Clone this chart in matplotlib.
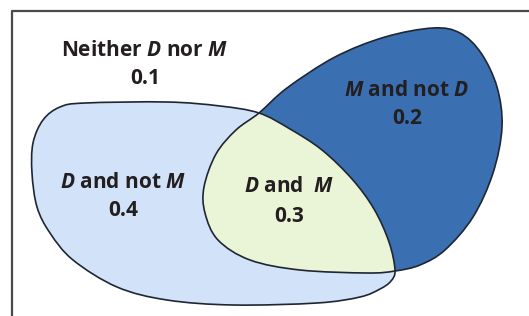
import numpy as np
import matplotlib
matplotlib.use("Agg")
import matplotlib.pyplot as plt
from matplotlib.path import Path
from matplotlib.patches import PathPatch

plt.rcParams['font.family'] = ['Open Sans', 'DejaVu Sans']
plt.rcParams['mathtext.fontset'] = 'custom'
plt.rcParams['mathtext.bfit'] = 'Open Sans:bold:italic'
plt.rcParams['mathtext.it'] = 'Open Sans:bold:italic'
plt.rcParams['mathtext.rm'] = 'Open Sans:bold'

# ---- data ----
region_labels = [r"Neither $\mathbfit{D}$ nor $\mathbfit{M}$",
                 r"$\mathbfit{M}$ and not $\mathbfit{D}$",
                 r"$\mathbfit{D}$ and not $\mathbfit{M}$",
                 r"$\mathbfit{D}$ and  $\mathbfit{M}$"]
region_probs = [0.1, 0.2, 0.4, 0.3]

# ---- geometry (pixel coordinates of the drawing) ----
label_pos = [(145, 50), (407, 90), (123, 182), (289, 187)]
D_pts = [(60, 107), (85, 103), (167, 102), (220, 106), (259, 113), (290, 129),
         (322, 150), (352, 179), (374, 209), (389, 242), (395, 270), (391, 281),
         (380, 289), (360, 297), (317, 303), (233, 305), (167, 300), (117, 287),
         (73, 260), (50, 233), (37, 207), (32, 173), (33, 143), (43, 120)]
M_pts = [(259, 113), (287, 88), (335, 57), (385, 37), (433, 28), (460, 33),
         (481, 53), (497, 87), (502, 127), (493, 173), (473, 217), (445, 250),
         (420, 265), (395, 271), (367, 273), (300, 270), (250, 260), (218, 240),
         (205, 213), (204, 187), (216, 154), (236, 130)]


def closed_spline(pts):
    P = np.array(pts, dtype=float)
    n = len(P)
    verts = [P[0]]
    codes = [Path.MOVETO]
    for i in range(n):
        p0, p1, p2, p3 = P[i - 1], P[i], P[(i + 1) % n], P[(i + 2) % n]
        c1 = p1 + (p2 - p0) / 6.0
        c2 = p2 - (p3 - p1) / 6.0
        verts += [c1, c2, p2]
        codes += [Path.CURVE4] * 3
    return Path(verts, codes)


fig = plt.figure(figsize=(5.29, 3.16), dpi=100)
ax = fig.add_axes([0, 0, 1, 1])
ax.set_xlim(0, 529)
ax.set_ylim(316, 0)
ax.axis('off')

# frame
ax.plot([12, 12, 529], [316, 11, 11], color='#4a4a4a', lw=1.6, solid_capstyle='butt')

pD = closed_spline(D_pts)
pM = closed_spline(M_pts)
light = '#d2e2f8'
dark = '#3a70b2'
inter = '#eaf4d6'
edge = '#1f2633'

ax.add_patch(PathPatch(pD, facecolor=light, edgecolor='none'))
ax.add_patch(PathPatch(pM, facecolor=dark, edgecolor='none'))
clipD = PathPatch(pD, facecolor='none', edgecolor='none')
ax.add_patch(clipD)
mi = PathPatch(pM, facecolor=inter, edgecolor='none')
ax.add_patch(mi)
mi.set_clip_path(clipD)
ax.add_patch(PathPatch(pD, facecolor='none', edgecolor=edge, lw=1.2))
ax.add_patch(PathPatch(pM, facecolor='none', edgecolor=edge, lw=1.2))

for lab, pr, (x, y) in zip(region_labels, region_probs, label_pos):
    ax.text(x, y, lab, ha='center', va='center', fontsize=15, fontweight='bold', color='#231f20')
    ax.text(x, y + 29, f"{pr:.1f}", ha='center', va='center', fontsize=15,
            fontweight='bold', color='#231f20')

fig.savefig('out.png', dpi=100)
